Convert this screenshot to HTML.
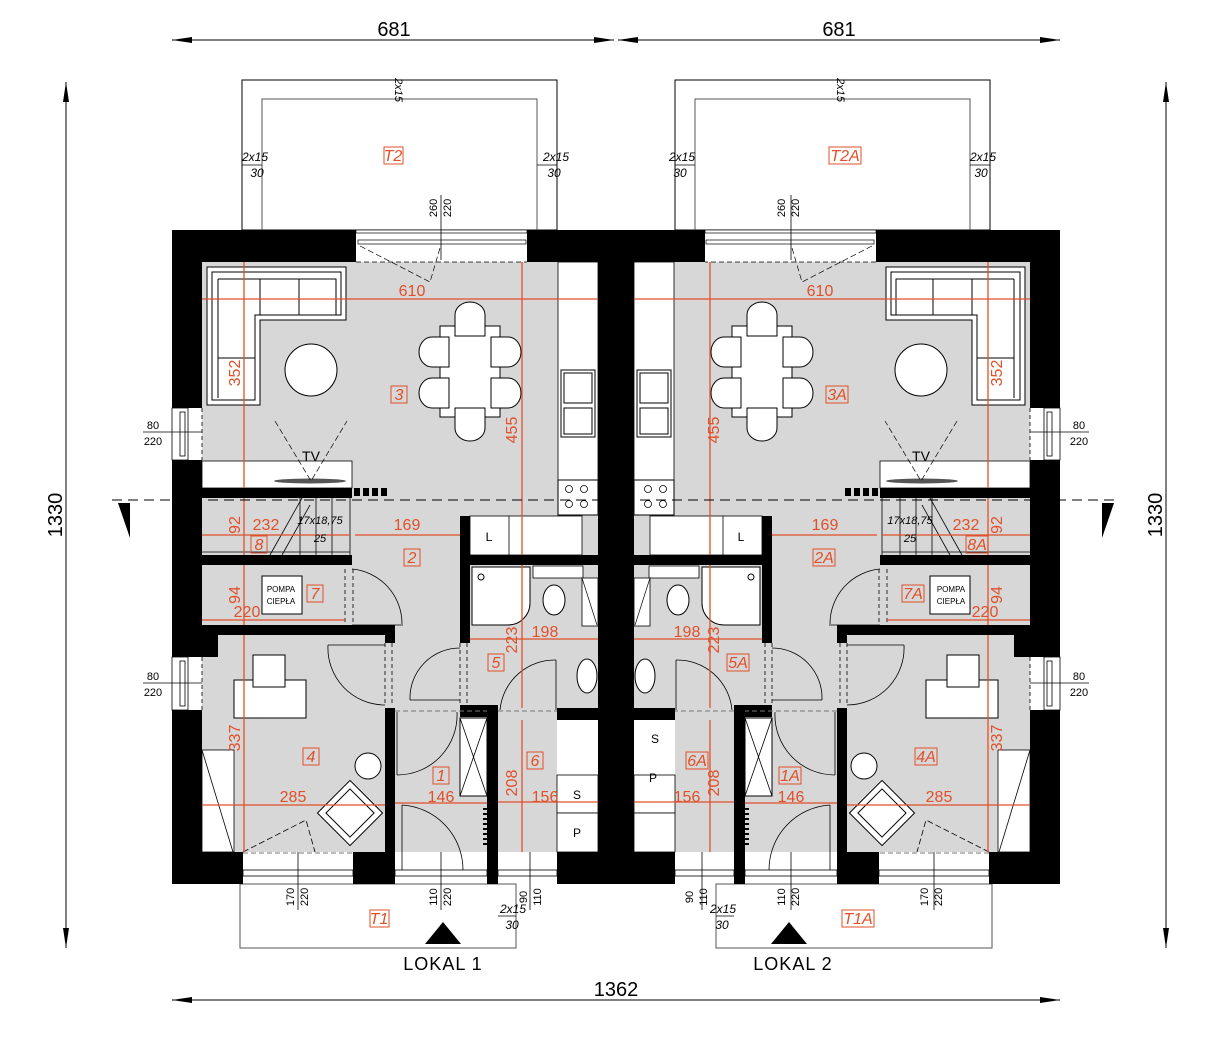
<!DOCTYPE html>
<html><head><meta charset="utf-8"><style>
html,body{margin:0;padding:0;background:#fff;}
svg{display:block;font-family:"Liberation Sans",sans-serif;}
.o{fill:#e0502a;font-size:16px;}
.ol{stroke:#e0502a;stroke-width:1.3;fill:none;}
.k{fill:#000;font-size:12px;font-style:italic;}
.n{fill:#000;font-size:20px;}
.lb{fill:none;stroke:#e0502a;stroke-width:1;}
</style></head><body>
<svg width="1215" height="1050" viewBox="0 0 1215 1050" xmlns="http://www.w3.org/2000/svg">
<defs>
<g id="L">
  <rect x="242" y="80" width="315" height="150" fill="none" stroke="#000" stroke-width="1"/>
  <polyline points="262,230 262,99 537,99 537,230" fill="none" stroke="#555" stroke-width="1"/>
  <rect x="240" y="884" width="276" height="64" fill="none" stroke="#555" stroke-width="1"/>
  <rect x="202" y="262" width="396" height="590" fill="#d7d7d7"/>
  <rect x="172" y="230" width="184" height="32" fill="#000"/>
  <rect x="527" y="230" width="105" height="32" fill="#000"/>
  <rect x="172" y="230" width="30" height="178" fill="#000"/>
  <rect x="172" y="460" width="30" height="197" fill="#000"/>
  <rect x="172" y="635" width="46" height="22" fill="#000"/>
  <rect x="172" y="710" width="30" height="174" fill="#000"/>
  <rect x="598" y="230" width="34" height="654" fill="#000"/>
  <rect x="172" y="852" width="71" height="32" fill="#000"/>
  <rect x="353" y="852" width="42" height="32" fill="#000"/>
  <rect x="487" y="852" width="11" height="32" fill="#000"/>
  <rect x="557" y="852" width="75" height="32" fill="#000"/>
  <rect x="172" y="488" width="180" height="10" fill="#000"/>
  <rect x="172" y="555" width="180" height="10" fill="#000"/>
  <rect x="172" y="625" width="223" height="10" fill="#000"/>
  <rect x="385" y="625" width="10" height="18" fill="#000"/>
  <rect x="385" y="708" width="10" height="144" fill="#000"/>
  <rect x="460" y="516" width="10" height="127" fill="#000"/>
  <rect x="460" y="705" width="38" height="12" fill="#000"/>
  <rect x="487" y="705" width="11" height="147" fill="#000"/>
  <rect x="470" y="555" width="130" height="10" fill="#000"/>
  <rect x="557" y="708" width="43" height="12" fill="#000"/>
  <rect x="585" y="708" width="15" height="42" fill="#000"/>
  <rect x="354" y="488" width="6" height="8" fill="#000"/><rect x="363" y="488" width="6" height="8" fill="#000"/><rect x="372" y="488" width="6" height="8" fill="#000"/><rect x="381" y="488" width="6" height="8" fill="#000"/>
  <rect x="356" y="230" width="171" height="3" fill="#fff" stroke="#000" stroke-width="0.7"/>
  <rect x="358" y="240" width="168" height="4" fill="#fff" stroke="#000" stroke-width="0.7"/>
  <line x1="356" y1="262" x2="527" y2="262" stroke="#000" stroke-dasharray="5,3" stroke-width="0.8"/>
  <path d="M360 246 L430 282 L440 248" fill="none" stroke="#000" stroke-width="0.7" stroke-dasharray="6,3"/>
  <rect x="172" y="408" width="16" height="52" fill="#fff" stroke="#000" stroke-width="0.8"/>
  <rect x="180" y="412" width="5" height="44" fill="#fff" stroke="#000" stroke-width="0.8"/>
  <line x1="202" y1="408" x2="202" y2="460" stroke="#000" stroke-dasharray="4,3" stroke-width="0.8"/>
  <rect x="172" y="657" width="16" height="53" fill="#fff" stroke="#000" stroke-width="0.8"/>
  <rect x="180" y="661" width="5" height="45" fill="#fff" stroke="#000" stroke-width="0.8"/>
  <line x1="202" y1="657" x2="202" y2="710" stroke="#000" stroke-dasharray="4,3" stroke-width="0.8"/>
  <rect x="243" y="870" width="110" height="6" fill="#fff" stroke="#000" stroke-width="0.8"/>
  <rect x="395" y="870" width="92" height="6" fill="#fff" stroke="#000" stroke-width="0.8"/>
  <rect x="498" y="870" width="59" height="6" fill="#fff" stroke="#000" stroke-width="0.8"/>
  <line x1="243" y1="853" x2="353" y2="853" stroke="#777" stroke-dasharray="5,3"/>
  <line x1="395" y1="711" x2="487" y2="711" stroke="#777" stroke-dasharray="5,3"/>
  <line x1="498" y1="711" x2="557" y2="711" stroke="#777" stroke-dasharray="5,3"/>
  <!-- sofa L -->
  <path d="M207 267 H346 V320 H260 V405 H207 Z" fill="#fff" stroke="#000"/>
  <path d="M212 272 H341 V315 H255 V400 H212 Z" fill="none" stroke="#000"/>
  <path d="M218 279 H336 V315 M218 279 V398" fill="none" stroke="#000"/>
  <line x1="260" y1="279" x2="260" y2="315" stroke="#000"/><line x1="299" y1="279" x2="299" y2="315" stroke="#000"/>
  <line x1="218" y1="358" x2="255" y2="358" stroke="#000"/>
  <circle cx="311" cy="370" r="26" fill="#fff" stroke="#000"/>
  <rect x="440" y="326" width="60" height="91" fill="#fff" stroke="#000"/>
  <g fill="#fff" stroke="#000">
  <path d="M455 336 V315 a15 13 0 0 1 30 0 V336 Z"/><path d="M455 408 V428 a15 13 0 0 0 30 0 V408 Z"/>
  <path d="M449 337 H432 a13 15 0 0 0 0 30 H449 Z"/><path d="M449 378 H432 a13 15 0 0 0 0 30 H449 Z"/>
  <path d="M491 337 H508 a13 15 0 0 1 0 30 H491 Z"/><path d="M491 378 H508 a13 15 0 0 1 0 30 H491 Z"/>
  </g>
  <rect x="558" y="262" width="40" height="253" fill="#fff" stroke="#000" stroke-width="0.8"/>
  <rect x="561" y="370" width="34" height="67" fill="#fff" stroke="#000"/>
  <rect x="564" y="373" width="28" height="30" fill="none" stroke="#000"/>
  <rect x="564" y="408" width="28" height="26" fill="none" stroke="#000"/>
  <rect x="558" y="480" width="40" height="35" fill="#fff" stroke="#000"/>
  <g stroke="#000" fill="none" stroke-width="0.8"><circle cx="569" cy="489" r="3.5"/><circle cx="584" cy="489" r="3.5"/><circle cx="569" cy="504" r="3.5"/><circle cx="584" cy="504" r="3.5"/></g>
  <rect x="202" y="461" width="150" height="27" fill="#fff" stroke="#000" stroke-width="0.8"/>
  <ellipse cx="310" cy="481" rx="36" ry="2.5" fill="#555"/>
  <path d="M275 421 L311 481 L347 421" fill="none" stroke="#000" stroke-width="0.7" stroke-dasharray="6,3"/>
  <g stroke="#000" stroke-width="0.8" fill="none">
  <line x1="270" y1="555" x2="302" y2="498"/><line x1="282" y1="555" x2="310" y2="505"/>
  <line x1="300" y1="498" x2="300" y2="555"/><line x1="316" y1="498" x2="316" y2="555"/><line x1="332" y1="498" x2="332" y2="555"/><line x1="350" y1="498" x2="350" y2="555"/>
  <line x1="202" y1="552" x2="350" y2="552"/>
  </g>
  <rect x="262" y="576" width="40" height="38" fill="#fff" stroke="#000"/>
  <g fill="none" stroke="#000" stroke-width="0.8">
  <path d="M345 569 V624 M353 569 V624" stroke-dasharray="4,3"/>
  <path d="M352 569 A55 55 0 0 1 402 624"/><line x1="352" y1="625" x2="403" y2="625"/>
  <path d="M385 643 V705 M392 643 V705" stroke-dasharray="4,3"/>
  <line x1="328" y1="645" x2="385" y2="645"/><path d="M328 645 A57 57 0 0 0 385 705"/>
  <path d="M460 643 V705 M467 643 V705" stroke-dasharray="4,3"/>
  <line x1="410" y1="700" x2="460" y2="700"/><path d="M410 700 A50 50 0 0 1 460 648"/>
  <line x1="556" y1="660" x2="556" y2="710"/><path d="M500 710 A55 55 0 0 1 556 660"/>
  <line x1="397" y1="712" x2="397" y2="775"/><path d="M397 775 A60 60 0 0 0 457 712"/>
  <line x1="402" y1="805" x2="402" y2="870"/><path d="M402 805 A65 65 0 0 1 463 870"/>
  <path d="M243 852 L306 820 L315 852" stroke-dasharray="6,3"/>
  </g>
  <rect x="460" y="718" width="27" height="78" fill="#fff" stroke="#000"/>
  <path d="M460 718 L487 796 M487 718 L460 796" stroke="#000" stroke-width="0.8"/>
  <rect x="202" y="750" width="32" height="102" fill="#fff" stroke="#000" stroke-width="0.8"/>
  <line x1="202" y1="750" x2="233" y2="852" stroke="#000" stroke-width="0.8"/>
  <rect x="234" y="680" width="72" height="38" fill="#fff" stroke="#000"/>
  <rect x="253" y="655" width="32" height="32" fill="#fff" stroke="#000"/>
  <circle cx="368" cy="766" r="13" fill="#fff" stroke="#000"/>
  <g transform="rotate(-45 350 813)"><rect x="327" y="790" width="46" height="46" fill="#fff" stroke="#000"/><rect x="333" y="796" width="34" height="34" fill="none" stroke="#000"/></g>
  <rect x="470" y="516" width="112" height="39" fill="#fff" stroke="#000" stroke-width="0.8"/>
  <line x1="509" y1="516" x2="509" y2="555" stroke="#000" stroke-width="0.8"/>
  <path d="M472 567 H530 V603 A22 22 0 0 1 508 625 H472 Z" fill="#fff" stroke="#000"/>
  <circle cx="481" cy="577" r="3" fill="none" stroke="#000"/>
  <rect x="533" y="566" width="50" height="12" fill="#fff" stroke="#000" stroke-width="0.8"/>
  <ellipse cx="554" cy="600" rx="11" ry="15" fill="#fff" stroke="#000"/>
  <rect x="582" y="578" width="16" height="48" fill="#fff" stroke="#000" stroke-width="0.8"/>
  <path d="M582 578 L597 625" stroke="#000" stroke-width="0.7"/>
  <ellipse cx="587" cy="676" rx="10" ry="17" fill="#fff" stroke="#000"/>
  <rect x="557" y="720" width="41" height="55" fill="#fff"/>
  <rect x="557" y="775" width="41" height="38" fill="#fff" stroke="#000" stroke-width="0.8"/>
  <rect x="557" y="813" width="41" height="39" fill="#fff" stroke="#000" stroke-width="0.8"/>
  <line x1="485" y1="808" x2="485" y2="846" stroke="#000" stroke-dasharray="2,3" stroke-width="4"/>
  <g class="ol">
  <line x1="202" y1="299" x2="598" y2="299"/>
  <line x1="522" y1="262" x2="522" y2="555"/>
  <line x1="244" y1="262" x2="244" y2="488"/>
  <line x1="244" y1="498" x2="244" y2="555"/>
  <line x1="202" y1="535" x2="350" y2="535"/><line x1="355" y1="535" x2="460" y2="535"/>
  <line x1="244" y1="565" x2="244" y2="625"/>
  <line x1="202" y1="620" x2="345" y2="620"/>
  <line x1="244" y1="635" x2="244" y2="852"/>
  <line x1="202" y1="805" x2="385" y2="805"/>
  <line x1="395" y1="803" x2="487" y2="803"/>
  <line x1="522" y1="565" x2="522" y2="708"/><line x1="470" y1="639" x2="598" y2="639"/>
  <line x1="522" y1="720" x2="522" y2="852"/><line x1="498" y1="802" x2="598" y2="802"/>
  </g>
  <line x1="441" y1="195" x2="441" y2="260" stroke="#000" stroke-width="0.8"/>
  <line x1="143" y1="432" x2="202" y2="432" stroke="#000" stroke-width="0.8"/>
  <line x1="143" y1="683" x2="202" y2="683" stroke="#000" stroke-width="0.8"/>
  <line x1="298" y1="852" x2="298" y2="910" stroke="#000" stroke-width="0.8"/>
  <line x1="441" y1="852" x2="441" y2="910" stroke="#000" stroke-width="0.8"/>
  <line x1="530" y1="852" x2="530" y2="910" stroke="#000" stroke-width="0.8"/>
  <line x1="242" y1="165" x2="262" y2="165" stroke="#000" stroke-width="0.8"/>
  <line x1="537" y1="165" x2="557" y2="165" stroke="#000" stroke-width="0.8"/>
  <line x1="498" y1="916" x2="516" y2="916" stroke="#000" stroke-width="0.8"/>
  <polygon points="425,944 443,922 461,944" fill="#000"/>
</g>
</defs>
<use href="#L"/>
<use href="#L" transform="translate(1232,0) scale(-1,1)"/>

<line x1="112" y1="500" x2="1120" y2="500" stroke="#000" stroke-dasharray="10,6" stroke-width="1"/>
<polygon points="118,503 130,503 130,538" fill="#000"/>
<polygon points="1114,503 1102,503 1102,538" fill="#000"/>

<g stroke="#000" stroke-width="1">
<line x1="172" y1="40" x2="614" y2="40"/><line x1="618" y1="40" x2="1060" y2="40"/>
<line x1="172" y1="1000" x2="1060" y2="1000"/>
<line x1="66" y1="82" x2="66" y2="948"/><line x1="1166" y1="82" x2="1166" y2="948"/>
</g>
<g fill="#000">
<polygon points="172,40 192,37 192,43"/><polygon points="614,40 594,37 594,43"/>
<polygon points="618,40 638,37 638,43"/><polygon points="1060,40 1040,37 1040,43"/>
<polygon points="172,1000 192,997 192,1003"/><polygon points="1060,1000 1040,997 1040,1003"/>
<polygon points="66,82 63,102 69,102"/><polygon points="66,948 63,928 69,928"/>
<polygon points="1166,82 1163,102 1169,102"/><polygon points="1166,948 1163,928 1169,928"/>
</g>
<text class="n" x="394" y="36" text-anchor="middle">681</text>
<text class="n" x="839" y="36" text-anchor="middle">681</text>
<text class="n" x="616" y="996" text-anchor="middle">1362</text>
<text class="n" transform="translate(62,515) rotate(-90)" text-anchor="middle">1330</text>
<text class="n" transform="translate(1162,515) rotate(-90)" text-anchor="middle">1330</text>
<text x="443" y="970" font-size="18" text-anchor="middle" letter-spacing="1">LOKAL 1</text>
<text x="793" y="970" font-size="18" text-anchor="middle" letter-spacing="1">LOKAL 2</text>

<g class="o" text-anchor="middle">
<text x="412" y="296">610</text><text x="820" y="296">610</text>
<text x="266" y="530">232</text><text x="966" y="530">232</text>
<text x="407" y="530">169</text><text x="825" y="530">169</text>
<text x="247" y="617">220</text><text x="985" y="617">220</text>
<text x="293" y="802">285</text><text x="939" y="802">285</text>
<text x="441" y="802">146</text><text x="791" y="802">146</text>
<text x="545" y="802">156</text><text x="687" y="802">156</text>
<text x="545" y="637">198</text><text x="687" y="637">198</text>
<text transform="translate(240,373) rotate(-90)">352</text><text transform="translate(1002,373) rotate(-90)">352</text>
<text transform="translate(517,430) rotate(-90)">455</text><text transform="translate(719,430) rotate(-90)">455</text>
<text transform="translate(240,525) rotate(-90)">92</text><text transform="translate(1002,525) rotate(-90)">92</text>
<text transform="translate(240,595) rotate(-90)">94</text><text transform="translate(1002,595) rotate(-90)">94</text>
<text transform="translate(240,738) rotate(-90)">337</text><text transform="translate(1002,738) rotate(-90)">337</text>
<text transform="translate(517,783) rotate(-90)">208</text><text transform="translate(719,783) rotate(-90)">208</text>
<text transform="translate(517,640) rotate(-90)">223</text><text transform="translate(719,640) rotate(-90)">223</text>
</g>
<g class="o" text-anchor="middle" font-size="14" font-style="italic">
<text x="399" y="400">3</text><text x="412" y="563">2</text><text x="259" y="550">8</text><text x="315" y="599">7</text>
<text x="311" y="762">4</text><text x="496" y="668">5</text><text x="441" y="781">1</text><text x="535" y="766">6</text>
<text x="393" y="161">T2</text><text x="379" y="924">T1</text>
<text x="837" y="400">3A</text><text x="824" y="563">2A</text><text x="977" y="550">8A</text><text x="913" y="599">7A</text>
<text x="926" y="762">4A</text><text x="738" y="668">5A</text><text x="790" y="781">1A</text><text x="697" y="766">6A</text>
<text x="845" y="161">T2A</text><text x="858" y="924">T1A</text>
</g>
<g class="lb">
<rect x="391" y="386" width="16" height="17"/><rect x="404" y="549" width="16" height="17"/><rect x="251" y="536" width="16" height="17"/><rect x="307" y="585" width="16" height="17"/>
<rect x="303" y="748" width="16" height="17"/><rect x="488" y="654" width="16" height="17"/><rect x="433" y="767" width="16" height="17"/><rect x="527" y="752" width="16" height="17"/>
<rect x="384" y="147" width="19" height="17"/><rect x="370" y="910" width="19" height="17"/>
<rect x="826" y="386" width="22" height="17"/><rect x="813" y="549" width="22" height="17"/><rect x="966" y="536" width="22" height="17"/><rect x="902" y="585" width="22" height="17"/>
<rect x="915" y="748" width="22" height="17"/><rect x="727" y="654" width="22" height="17"/><rect x="779" y="767" width="22" height="17"/><rect x="686" y="752" width="22" height="17"/>
<rect x="829" y="147" width="32" height="17"/><rect x="842" y="910" width="32" height="17"/>
</g>
<g font-size="12" fill="#000" text-anchor="middle">
<text x="489" y="541">L</text><text x="741" y="541">L</text>
<text x="577" y="799">S</text><text x="655" y="743">S</text>
<text x="577" y="837">P</text><text x="653" y="782">P</text>
<text x="311" y="461" font-size="14">TV</text><text x="921" y="461" font-size="14">TV</text>
<text x="281" y="592" font-size="8">POMPA</text><text x="281" y="604" font-size="8">CIEPŁA</text>
<text x="951" y="592" font-size="8">POMPA</text><text x="951" y="604" font-size="8">CIEPŁA</text>
</g>
<g class="k" text-anchor="middle">
<text x="320" y="524" font-size="11">17x18,75</text><text x="320" y="542" font-size="11">25</text>
<text x="910" y="524" font-size="11">17x18,75</text><text x="910" y="542" font-size="11">25</text>
<text x="255" y="161">2x15</text><text x="257" y="177">30</text>
<text x="556" y="161">2x15</text><text x="554" y="177">30</text>
<text x="682" y="161">2x15</text><text x="680" y="177">30</text>
<text x="983" y="161">2x15</text><text x="981" y="177">30</text>
<text x="513" y="913">2x15</text><text x="512" y="929">30</text>
<text x="723" y="913">2x15</text><text x="722" y="929">30</text>
</g>
<g font-size="11" fill="#000" text-anchor="middle">
<text x="153" y="429">80</text><text x="153" y="445">220</text>
<text x="153" y="680">80</text><text x="153" y="696">220</text>
<text x="1079" y="429">80</text><text x="1079" y="445">220</text>
<text x="1079" y="680">80</text><text x="1079" y="696">220</text>
<text transform="translate(437,208) rotate(-90)">260</text><text transform="translate(451,208) rotate(-90)">220</text>
<text transform="translate(785,208) rotate(-90)">260</text><text transform="translate(799,208) rotate(-90)">220</text>
<text transform="translate(294,897) rotate(-90)">170</text><text transform="translate(308,897) rotate(-90)">220</text>
<text transform="translate(437,897) rotate(-90)">110</text><text transform="translate(451,897) rotate(-90)">220</text>
<text transform="translate(527,897) rotate(-90)">90</text><text transform="translate(541,897) rotate(-90)">110</text>
<text transform="translate(693,897) rotate(-90)">90</text><text transform="translate(707,897) rotate(-90)">110</text>
<text transform="translate(785,897) rotate(-90)">110</text><text transform="translate(799,897) rotate(-90)">220</text>
<text transform="translate(928,897) rotate(-90)">170</text><text transform="translate(942,897) rotate(-90)">220</text>
<text transform="translate(395,90) rotate(90)" font-style="italic">2x15</text>
<text transform="translate(837,90) rotate(90)" font-style="italic">2x15</text>
</g>
</svg>
</body></html>
